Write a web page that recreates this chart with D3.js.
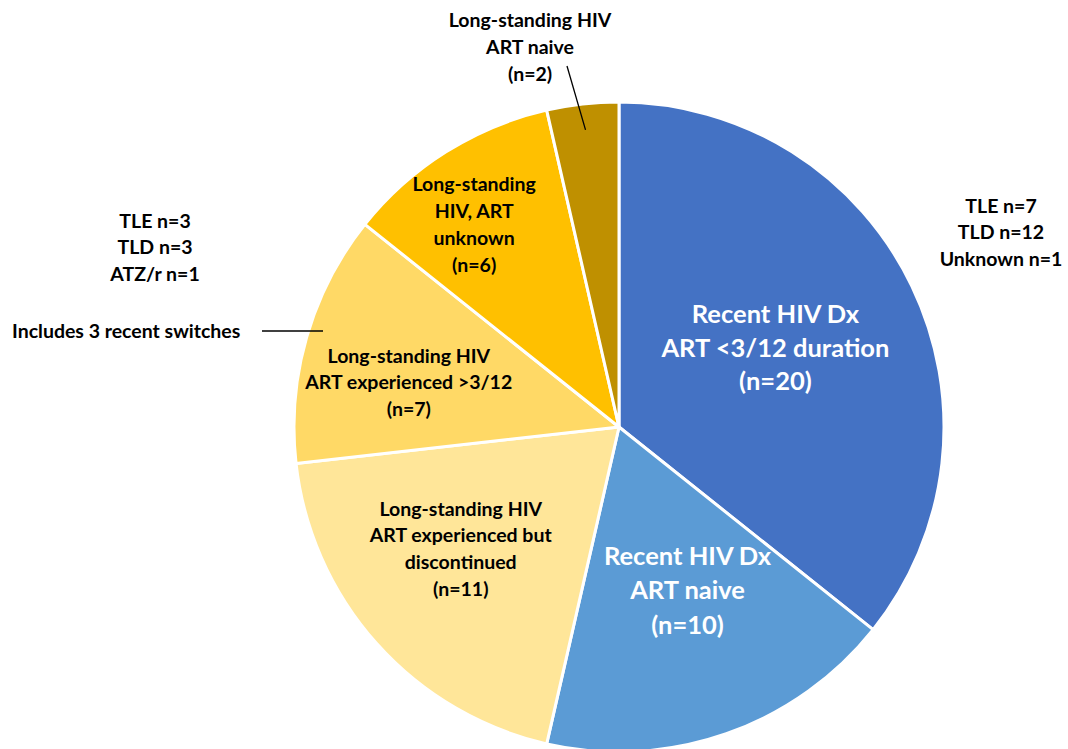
<!DOCTYPE html>
<html>
<head>
<meta charset="utf-8">
<script src="https://cdn.jsdelivr.net/npm/d3@7"></script>
<style>
  html, body { margin: 0; padding: 0; background: #fff; }
  svg { display: block; font-family: Lato, "Open Sans", sans-serif; font-weight: bold; }
</style>
</head>
<body>
<svg id="chart" width="1068" height="749"></svg>
<script>
// Patient groups, in clockwise order from 12 o'clock
const categories = [
  "Recent HIV Dx ART <3/12 duration",
  "Recent HIV Dx ART naive",
  "Long-standing HIV ART experienced but discontinued",
  "Long-standing HIV ART experienced >3/12",
  "Long-standing HIV, ART unknown",
  "Long-standing HIV ART naive"
];
const counts = [20, 10, 11, 7, 6, 2];
const colors = ["#4472C4", "#5B9BD5", "#FFE699", "#FFD966", "#FFC000", "#BF9000"];

// Label lines drawn inside (or beside) each slice
const sliceLabels = [
  ["Recent HIV Dx", "ART <3/12 duration", "(n=20)"],
  ["Recent HIV Dx", "ART naive", "(n=10)"],
  ["Long-standing HIV", "ART experienced but", "discontinued", "(n=11)"],
  ["Long-standing HIV", "ART experienced >3/12", "(n=7)"],
  ["Long-standing", "HIV, ART", "unknown", "(n=6)"],
  ["Long-standing HIV", "ART naive", "(n=2)"]
];

// Regimen breakdown notes
const notesRecent = ["TLE n=7", "TLD n=12", "Unknown n=1"];
const notesExperienced = ["TLE n=3", "TLD n=3", "ATZ/r n=1"];
const switchNote = "Includes 3 recent switches";

const svg = d3.select("#chart");
const cx = 619, cy = 427, radius = 325;

const pie = d3.pie().sort(null).value(d => d)(counts);
const arc = d3.arc().innerRadius(0).outerRadius(radius);

const g = svg.append("g").attr("transform", `translate(${cx},${cy})`);

g.selectAll("path.slice")
  .data(pie)
  .join("path")
  .attr("class", "slice")
  .attr("d", arc)
  .attr("fill", (d, i) => colors[i])
  .attr("stroke", "#fff")
  .attr("stroke-width", 3)
  .attr("stroke-linejoin", "round");

const SMALL = 19.5, BIG = 25.5;

// Label styling per slice: radius fraction along the slice bisector, size, line height, colour
const labelSpec = [
  { r: 0.50, size: BIG, lh: 33.5, color: "#fff" },
  { r: 0.62, size: BIG, lh: 34.5, color: "#fff" },
  { r: 0.55, size: SMALL, lh: 26.7, color: "#000" },
  { r: 0.67, size: SMALL, lh: 26.7, color: "#000" },
  { r: 0.67, size: SMALL, lh: 27, color: "#000" },
  { r: null, size: SMALL, lh: 27, color: "#000" }
];

function polar(angle, r) {
  return [Math.sin(angle) * r, -Math.cos(angle) * r];
}

const labelAnchors = pie.map((d, i) => {
  const mid = (d.startAngle + d.endAngle) / 2;
  return polar(mid, radius * (labelSpec[i].r || 0));
});
// offsets to fine-position labels within their slices
const labelShift = [[10, -10], [2, -28], [-25, 2], [-1, 15], [-29, -18.5], [0, 0]];

pie.forEach((d, i) => {
  if (i === 5) return;
  const spec = labelSpec[i];
  const lines = sliceLabels[i];
  const [x0, y0] = labelAnchors[i];
  const x = x0 + labelShift[i][0], y = y0 + labelShift[i][1];
  const t = g.append("text")
    .attr("text-anchor", "middle")
    .attr("font-size", spec.size)
    .attr("fill", spec.color);
  lines.forEach((ln, k) => {
    t.append("tspan")
      .attr("x", x)
      .attr("y", y + (k - (lines.length - 1) / 2) * spec.lh)
      .attr("dominant-baseline", "central")
      .text(ln);
  });
});

// Small slice: label outside above, with leader line into the slice
function textBlock(lines, x, yFirst, lh, size, anchor) {
  const t = svg.append("text")
    .attr("text-anchor", anchor)
    .attr("font-size", size)
    .attr("fill", "#000");
  lines.forEach((ln, k) => {
    t.append("tspan")
      .attr("x", x)
      .attr("y", yFirst + k * lh)
      .attr("dominant-baseline", "central")
      .text(ln);
  });
}

textBlock(sliceLabels[5], 530, 19, 27, SMALL, "middle");
const small = pie[5];
const smallMid = (small.startAngle + small.endAngle) / 2;
const [lx, ly] = polar(smallMid, radius * 0.92);
svg.append("line")
  .attr("x1", 567).attr("y1", 66)
  .attr("x2", cx + lx).attr("y2", cy + ly)
  .attr("stroke", "#000").attr("stroke-width", 1.3);

// Regimen notes
textBlock(notesRecent, 1001, 205, 26.5, SMALL, "middle");
textBlock(notesExperienced, 155, 220, 26.5, SMALL, "middle");

svg.append("text")
  .attr("x", 12).attr("y", 330)
  .attr("dominant-baseline", "central")
  .attr("font-size", SMALL)
  .attr("fill", "#000")
  .text(switchNote);
svg.append("line")
  .attr("x1", 262).attr("y1", 331)
  .attr("x2", 323).attr("y2", 331)
  .attr("stroke", "#000").attr("stroke-width", 1.3);
</script>
</body>
</html>
